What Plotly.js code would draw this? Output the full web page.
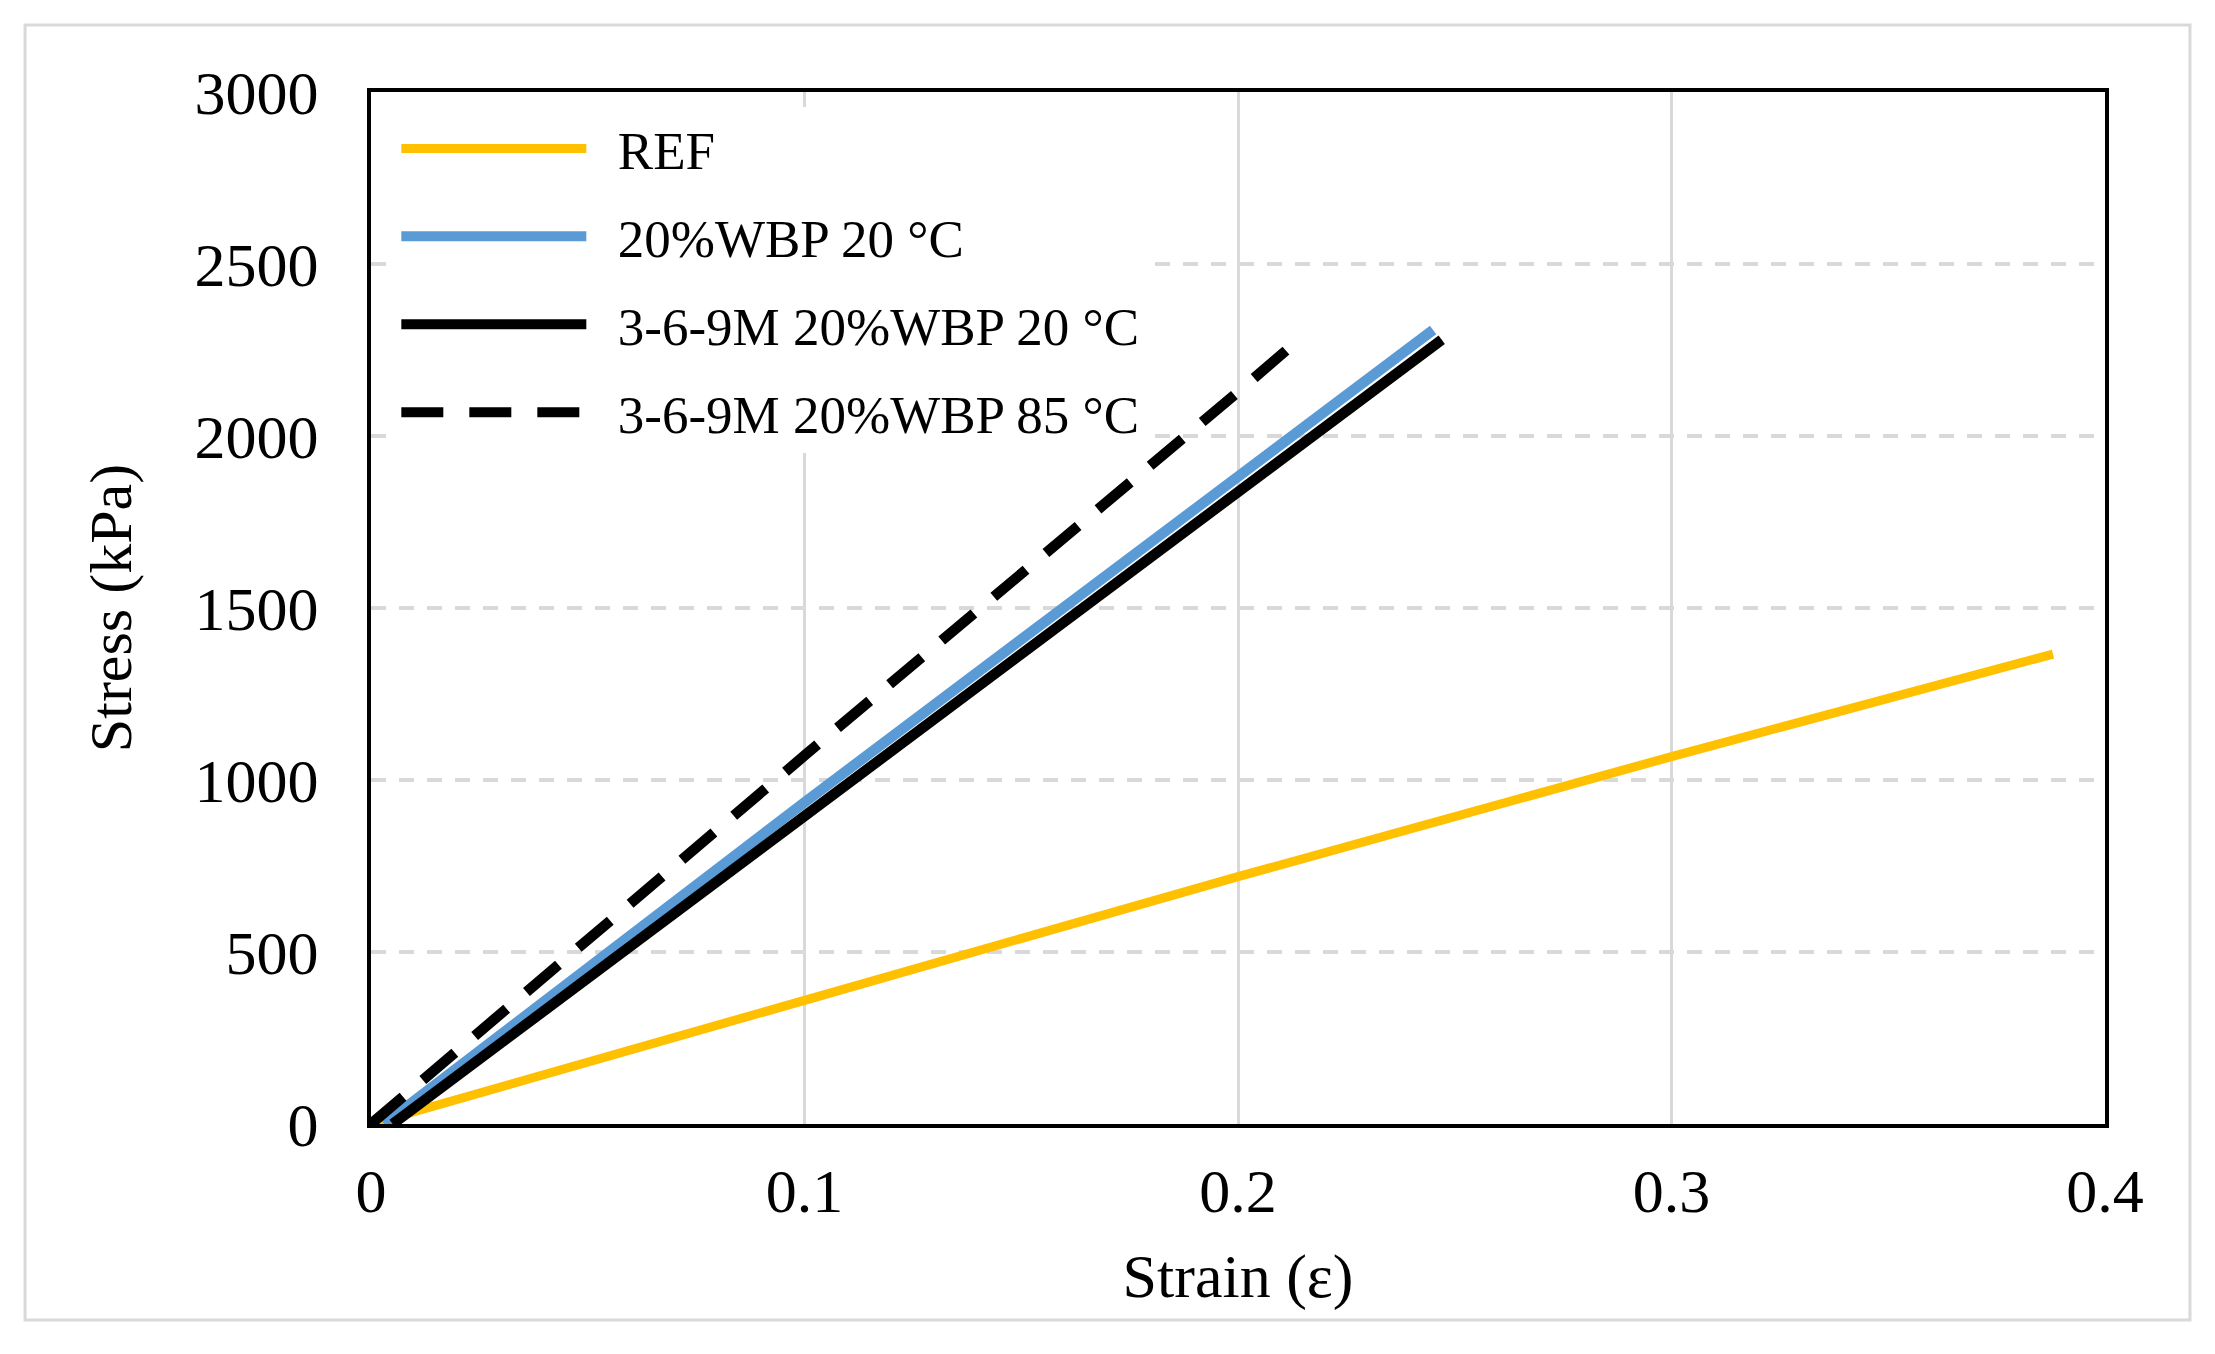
<!DOCTYPE html>
<html>
<head>
<meta charset="utf-8">
<script src="https://cdn.plot.ly/plotly-3.0.1.min.js"></script>
<style>
  html, body { margin: 0; padding: 0; background: #fff; }
  #myDiv { width: 2215px; height: 1354px; }
</style>
</head>
<body>
<div id="myDiv"></div>
<script>
// values
var refStrain = [0, 0.1, 0.2, 0.3, 0.388];
var refStress = [0, 358, 719, 1068, 1366];

var wbp20Strain = [0.003, 0.1, 0.245];
var wbp20Stress = [0, 935, 2308];

var m20Strain = [0.005, 0.1, 0.247];
var m20Stress = [0, 896, 2280];

var m85Strain = [0, 0.1, 0.2, 0.2115];
var m85Stress = [0, 1071, 2128, 2253];

var seriesNames = ['REF', '20%WBP 20 °C', '3-6-9M 20%WBP 20 °C', '3-6-9M 20%WBP 85 °C'];

var font = 'Liberation Serif, Times New Roman, serif';

function makeTrace(x, y, i, color, width, dash)
{
  return {
    x: x,
    y: y,
    type: 'scatter',
    mode: 'lines',
    name: '\u2002' + seriesNames[i], // small gap after the legend line, like the original
    legendgroup: 'g' + i,
    line: { color: color, width: width, dash: dash || 'solid' }
  };
}

var data = [
  makeTrace(refStrain, refStress, 0, '#FFC000', 9),
  makeTrace(wbp20Strain, wbp20Stress, 1, '#5B9BD5', 10.5),
  makeTrace(m20Strain, m20Stress, 2, '#000000', 10.5),
  makeTrace(m85Strain, m85Stress, 3, '#000000', 10.5, '42px,26px')
];

var layout = {
  width: 2215,
  height: 1354,
  margin: { l: 371, r: 110, t: 92, b: 230 },
  paper_bgcolor: '#ffffff',
  plot_bgcolor: '#ffffff',
  font: { family: font, size: 60, color: '#000000' },
  showlegend: true,
  legend: {
    x: 0.0146,
    y: 0.985,
    xanchor: 'left',
    yanchor: 'top',
    bgcolor: 'rgba(255,255,255,1)',
    borderwidth: 0,
    itemwidth: 185,
    tracegroupgap: 16,
    font: { family: font, size: 53, color: '#000000' }
  },
  xaxis: {
    range: [0, 0.4],
    dtick: 0.1,
    tick0: 0,
    showgrid: true,
    gridcolor: '#d9d9d9',
    gridwidth: 3,
    zeroline: false,
    showline: true,
    mirror: true,
    linecolor: '#000000',
    linewidth: 4,
    ticks: '',
    ticklabelstandoff: 10,
    tickfont: { family: font, size: 62, color: '#000000' },
    title: { text: 'Strain (ε)', standoff: 30, font: { family: font, size: 62, color: '#000000' } }
  },
  yaxis: {
    range: [0, 3000],
    dtick: 500,
    tick0: 0,
    showgrid: true,
    gridcolor: '#d9d9d9',
    gridwidth: 3.5,
    griddash: '15px,13px',
    zeroline: false,
    showline: true,
    mirror: true,
    linecolor: '#000000',
    linewidth: 4,
    ticks: '',
    ticklabelstandoff: 36,
    tickfont: { family: font, size: 62, color: '#000000' },
    title: { text: 'Stress (kPa)', standoff: 45, font: { family: font, size: 60, color: '#000000' } }
  },
  shapes: [{
    type: 'rect',
    xref: 'paper', yref: 'paper',
    x0: -0.1995, x1: 1.049, y0: -0.19, y1: 1.065,
    line: { color: '#d9d9d9', width: 3 },
    fillcolor: 'rgba(0,0,0,0)'
  }]
};

Plotly.newPlot('myDiv', data, layout, { staticPlot: true, displayModeBar: false });
</script>
</body>
</html>
